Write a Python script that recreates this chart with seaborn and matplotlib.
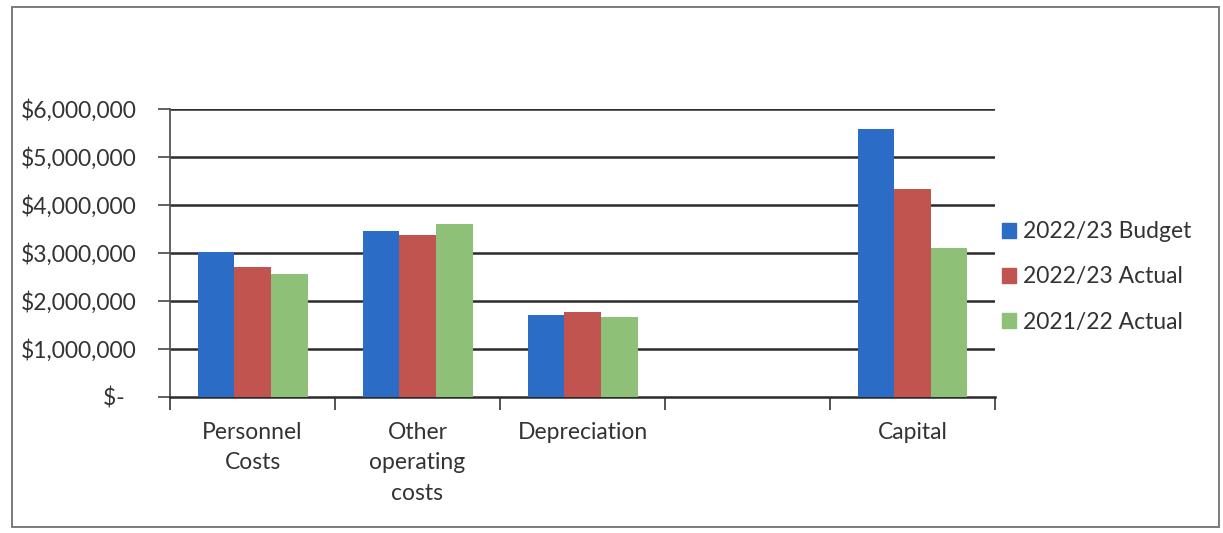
import matplotlib
matplotlib.use("Agg")
import matplotlib.pyplot as plt
import matplotlib.patches as mpatches
import matplotlib.ticker as mticker
import numpy as np
import pandas as pd
import seaborn as sns

# Expense categories (one slot is intentionally left blank on the axis)
categories = ["Personnel\nCosts", "Other\noperating\ncosts", "Depreciation", "Capital"]
axis_order = ["Personnel\nCosts", "Other\noperating\ncosts", "Depreciation", " ", "Capital"]

series_names = ["2022/23 Budget", "2022/23 Actual", "2021/22 Actual"]
budget_2223 = [3_030_000, 3_450_000, 1_710_000, 5_590_000]
actual_2223 = [2_710_000, 3_370_000, 1_770_000, 4_340_000]
actual_2122 = [2_560_000, 3_600_000, 1_670_000, 3_100_000]

y_ticks = [0, 1_000_000, 2_000_000, 3_000_000, 4_000_000, 5_000_000, 6_000_000]

colors = ["#2a6cc6", "#c2544f", "#8ec077"]

rows = []
for name, vals in zip(series_names, [budget_2223, actual_2223, actual_2122]):
    for cat, v in zip(categories, vals):
        rows.append({"category": cat, "series": name, "amount": v})
df = pd.DataFrame(rows)

sns.set_theme(style="white")
plt.rcParams["font.family"] = ["Lato", "DejaVu Sans"]
text_color = "#333333"
fs = 16.5

W, H = 1223, 533
fig = plt.figure(figsize=(W / 100, H / 100), dpi=100)
fig.patch.set_facecolor("white")

# plot area in pixel coordinates
left, right, top, bottom = 170, 995, 109, 397
ax = fig.add_axes([left / W, 1 - bottom / H, (right - left) / W, (bottom - top) / H])

sns.barplot(data=df, x="category", y="amount", hue="series", order=axis_order,
            hue_order=series_names, palette=colors, width=2 / 3, gap=0,
            saturation=1, errorbar=None, ax=ax, zorder=3, legend=True,
            linewidth=0, edgecolor="none")

ax.set_ylim(0, 6_000_000)
ax.set_xlim(-0.5, len(axis_order) - 0.5)
ax.set_yticks(y_ticks)


def money(v, pos):
    if v == 0:
        return "$-  "
    return f"${v:,.0f}"


ax.yaxis.set_major_formatter(mticker.FuncFormatter(money))
ax.set_xlabel("")
ax.set_ylabel("")

grid_color = "#2b2b2b"
for yv in y_ticks[1:]:
    ax.axhline(yv, color=grid_color, lw=1.8, zorder=1)

for side in ["top", "right"]:
    ax.spines[side].set_visible(False)
ax.spines["left"].set_color("#555555")
ax.spines["left"].set_linewidth(1.3)
ax.spines["bottom"].set_color(grid_color)
ax.spines["bottom"].set_linewidth(1.8)

ax.tick_params(axis="y", which="major", direction="out", length=9, width=1.3,
               color="#555555", labelsize=fs, labelcolor=text_color, pad=15, left=True)
ax.tick_params(axis="x", which="major", length=0, labelsize=fs,
               labelcolor=text_color, pad=18)
ax.xaxis.set_minor_locator(mticker.FixedLocator(np.arange(-0.5, len(axis_order), 1.0)))
ax.tick_params(axis="x", which="minor", direction="out", length=9, width=1.3,
               color="#444444", bottom=True)
for lbl in ax.get_xticklabels():
    lbl.set_linespacing(1.55)

ax.get_legend().remove()
handles = [mpatches.Patch(color=c, label=n) for c, n in zip(colors, series_names)]
fig.legend(handles=handles, loc="center left", bbox_to_anchor=(1002 / W, 1 - 277 / H),
           frameon=False, fontsize=fs, handlelength=0.6, handleheight=0.6,
           handletextpad=0.3, labelspacing=1.05, borderpad=0, borderaxespad=0,
           labelcolor=text_color)

# outer chart border
fig.add_artist(mpatches.Rectangle((12 / W, 1 - 527 / H), (1219 - 12) / W, (527 - 7) / H,
                                  transform=fig.transFigure, fill=False,
                                  edgecolor="#7a7a7a", lw=1.4))

fig.savefig("out.png", dpi=100)
